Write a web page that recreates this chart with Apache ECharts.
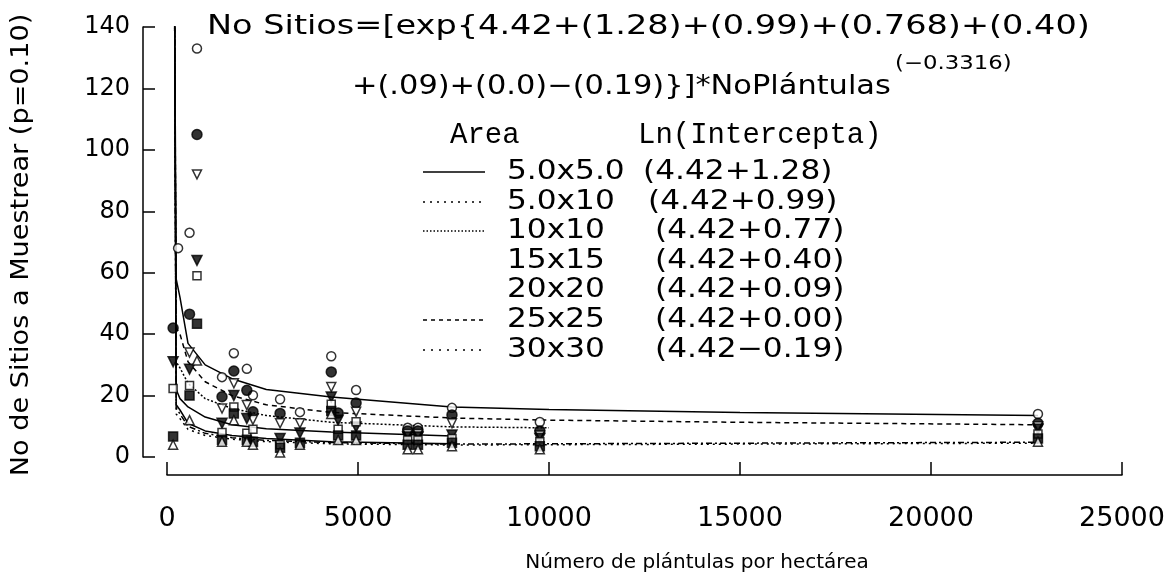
<!DOCTYPE html>
<html>
<head>
<meta charset="utf-8">
<script src="https://cdn.jsdelivr.net/npm/echarts@6/dist/echarts.min.js"></script>
<style>
html, body { margin: 0; padding: 0; background: #fff; }
#main { width: 1175px; height: 578px; }
</style>
</head>
<body>
<div id="main"></div>
<script>
// plántulas por hectárea de cada sitio (eje x)
var sitios = [160, 290, 590, 785, 1440, 1750, 2090, 2250, 2960, 3480, 4300, 4480, 4950, 6300, 6570, 7460, 9760, 22800];

// No de sitios observado por área de parcela (null = sin punto)
var obs5x5   = [null, 68, 73, 133, 26.0, 33.8, 28.7, 20.1, 18.8, 14.6, 32.8, null, 21.8, 9.5, 9.5, 16.0, 11.4, 14.0];
var obs5x10  = [42, null, 46.5, 105, 19.6, 28.0, 21.7, 14.7, 14.2, null, 27.7, 14.3, 17.6, 8.5, 8.5, 13.7, 8.5, 11.0];
var obs10x10 = [null, null, 34.0, 92, 15.8, 24.0, 16.9, 12.1, 11.0, 11.0, 22.8, null, 14.7, 7.5, 7.5, 11.0, 7.0, 10.0];
var obs15x15 = [31, null, 28.6, 64, 11.0, 20.0, 12.5, null, 6.0, 7.8, 19.5, 12.0, 9.8, 6.5, 6.5, 7.2, 6.0, 9.0];
var obs20x20 = [22.3, null, 23.3, 59, 8.0, 16.3, 7.7, 9.0, 4.0, null, 17.2, 9.0, 11.5, 5.5, 5.5, 6.0, 5.0, 7.5];
var obs25x25 = [6.7, null, 20.0, 43.4, 5.6, 14.2, 5.6, 5.0, 3.0, 4.6, 15.0, 7.0, 7.0, 4.0, 4.0, 4.6, 3.5, 6.0];
var obs30x30 = [4.0, null, 12.0, 31.4, 5.0, 12.0, 5.0, 4.0, 1.5, 4.0, 14.0, 5.5, 5.5, 2.5, 2.5, 3.5, 2.5, 5.0];

// curvas ajustadas
var curvaX     = [200, 240, 340, 550, 1000, 1700, 2600, 4300, 7460, 10000, 15000, 22800];
var curva5x5   = [145, 58, 52, 37, 30, 25.5, 22, 19.5, 16.3, 15.5, 14.5, 13.5];
var curva5x10  = [145, 42, 40, 31, 24.5, 20, 17, 14.5, 12.7, 12, 11.3, 10.5];
var curva10x10 = [145, 31, 29, 24, 19, 15.8, 13.5, 11.3, 9.8, 9.5, null, null];
var curva15x15 = [145, 22, 19, 16.3, 13, 10.5, 9.2, 8.1, 6.8, null, null, null];
var curva20x20 = [145, 17, 15.3, 11, 8.5, 7, 6, 5, 4.3, null, null, null];
var curva25x25 = [145, 16, 14, 10, 7.7, 6.3, 5.4, 4.7, 4.2, 4.3, 4.5, 4.8];
var curva30x30 = [145, 14, 12.5, 9, 7, 5.8, 5, 4.3, 3.9, 4, 4.2, 4.5];

var areas = ["5.0x5.0", "5.0x10", "10x10", "15x15", "20x20", "25x25", "30x30"];
var intercepta = ["(4.42+1.28)", "(4.42+0.99)", "(4.42+0.77)", "(4.42+0.40)", "(4.42+0.09)", "(4.42+0.00)", "(4.42\u22120.19)"];
var ticksY = [0, 20, 40, 60, 80, 100, 120, 140];
var ticksX = [0, 5000, 10000, 15000, 20000, 25000];

var obs = [obs5x5, obs5x10, obs10x10, obs15x15, obs20x20, obs25x25, obs30x30];
var curvas = [curva5x5, curva5x10, curva10x10, curva15x15, curva20x20, curva25x25, curva30x30];

var SANS = '"DejaVu Sans"';
// marcadores: abierto / lleno
var marcas = [
  { symbol: "circle", size: 9, fill: "#fff", rot: 0 },
  { symbol: "circle", size: 10, fill: "#000", rot: 0 },
  { symbol: "triangle", size: 9, fill: "#fff", rot: 180 },
  { symbol: "triangle", size: 10, fill: "#000", rot: 180 },
  { symbol: "rect", size: 8, fill: "#fff", rot: 0 },
  { symbol: "rect", size: 9, fill: "#000", rot: 0 },
  { symbol: "triangle", size: 9, fill: "#fff", rot: 0 }
];
var estilos = ["solid", [5, 4], [2, 2], "solid", "solid", [6, 3, 2, 3], [2, 4]];
var muestras = ["solid", [2, 5], [1.5, 2], null, null, [4, 4], [2, 6]];

function pares(xs, ys) {
  var out = [];
  for (var i = 0; i < xs.length; i++) {
    if (ys[i] != null) out.push([xs[i], ys[i]]);
  }
  return out;
}

var series = [];
curvas.forEach(function (c, i) {
  series.push({
    name: areas[i],
    type: "line",
    data: pares(curvaX, c),
    symbol: "none",
    clip: true,
    silent: true,
    z: 2,
    lineStyle: { color: "#000", width: 1.5, type: estilos[i] }
  });
});
obs.forEach(function (o, i) {
  var m = marcas[i];
  series.push({
    name: areas[i] + " obs",
    type: "scatter",
    data: pares(sitios, o),
    symbol: m.symbol,
    symbolSize: m.size,
    symbolRotate: m.rot,
    z: 3,
    itemStyle: { color: m.fill, borderColor: "#000", borderWidth: 1.5 }
  });
});

// leyenda y ecuacion
var graficos = [
  { type: "text", x: 207, y: 27, scaleX: 1.29,
    style: { text: "No Sitios=[exp{4.42+(1.28)+(0.99)+(0.768)+(0.40)", font: "26px " + SANS, fill: "#000", verticalAlign: "middle", textVerticalAlign: "middle" } },
  { type: "text", x: 352, y: 87, scaleX: 1.17,
    style: { text: "+(.09)+(0.0)\u2212(0.19)}]*NoPl\u00e1ntulas", font: "26px " + SANS, fill: "#000", verticalAlign: "middle", textVerticalAlign: "middle" } },
  { type: "text", x: 895, y: 64, scaleX: 1.2,
    style: { text: "(\u22120.3316)", font: "19px " + SANS, fill: "#000", verticalAlign: "middle", textVerticalAlign: "middle" } },
  { type: "text", x: 450, y: 135,
    style: { text: "Area", font: '29px "Liberation Mono"', fill: "#000", verticalAlign: "middle", textVerticalAlign: "middle" } },
  { type: "text", x: 638, y: 135,
    style: { text: "Ln(Intercepta)", font: '29px "Liberation Mono"', fill: "#000", verticalAlign: "middle", textVerticalAlign: "middle" } },
  { type: "text", x: 22, y: 245, rotation: Math.PI / 2, scaleX: 1.13,
    style: { text: "No de Sitios a Muestrear (p=0.10)", font: "24px " + SANS, fill: "#000", align: "center", textAlign: "center", verticalAlign: "middle", textVerticalAlign: "middle" } },
  { type: "text", x: 697, y: 563,
    style: { text: "N\u00famero de pl\u00e1ntulas por hect\u00e1rea", font: "20px " + SANS, fill: "#000", align: "center", textAlign: "center", verticalAlign: "middle", textVerticalAlign: "middle" } }
];
var filaY = [172, 202, 231, 261, 290, 320, 350];
var parX = [643, 648, 655, 655, 655, 655, 655];
areas.forEach(function (a, i) {
  if (muestras[i]) {
    graficos.push({ type: "line", shape: { x1: 423, y1: filaY[i], x2: 485, y2: filaY[i] },
      style: { stroke: "#000", lineWidth: 1.5, lineDash: muestras[i] === "solid" ? null : muestras[i] } });
  }
  graficos.push({ type: "text", x: 507, y: filaY[i], scaleX: 1.2,
    style: { text: a, font: "26px " + SANS, fill: "#000", verticalAlign: "middle", textVerticalAlign: "middle" } });
  graficos.push({ type: "text", x: parX[i], y: filaY[i], scaleX: 1.2,
    style: { text: intercepta[i], font: "26px " + SANS, fill: "#000", verticalAlign: "middle", textVerticalAlign: "middle" } });
});

var chart = echarts.init(document.getElementById("main"));
chart.setOption({
  backgroundColor: "#fff",
  animation: false,
  grid: { left: 167, right: 53, top: 27, bottom: 121, containLabel: false, outerBoundsMode: "none" },
  xAxis: {
    type: "value", min: ticksX[0], max: ticksX[ticksX.length - 1], interval: 5000,
    offset: 18,
    axisLine: { onZero: false, lineStyle: { color: "#000", width: 1.5 } },
    axisTick: { inside: true, length: 13, lineStyle: { color: "#000", width: 1.5 } },
    axisLabel: { color: "#000", fontFamily: "DejaVu Sans", fontSize: 27, margin: 30, formatter: function (v) { return String(v); } },
    splitLine: { show: false }
  },
  yAxis: {
    type: "value", min: ticksY[0], max: ticksY[ticksY.length - 1], interval: 20,
    offset: 24,
    axisLine: { onZero: false, lineStyle: { color: "#000", width: 1.5 } },
    axisTick: { inside: true, length: 12, lineStyle: { color: "#000", width: 1.5 } },
    axisLabel: { color: "#000", fontFamily: "DejaVu Sans", fontSize: 24, margin: 13 },
    splitLine: { show: false }
  },
  graphic: graficos,
  series: series
});
</script>
</body>
</html>
